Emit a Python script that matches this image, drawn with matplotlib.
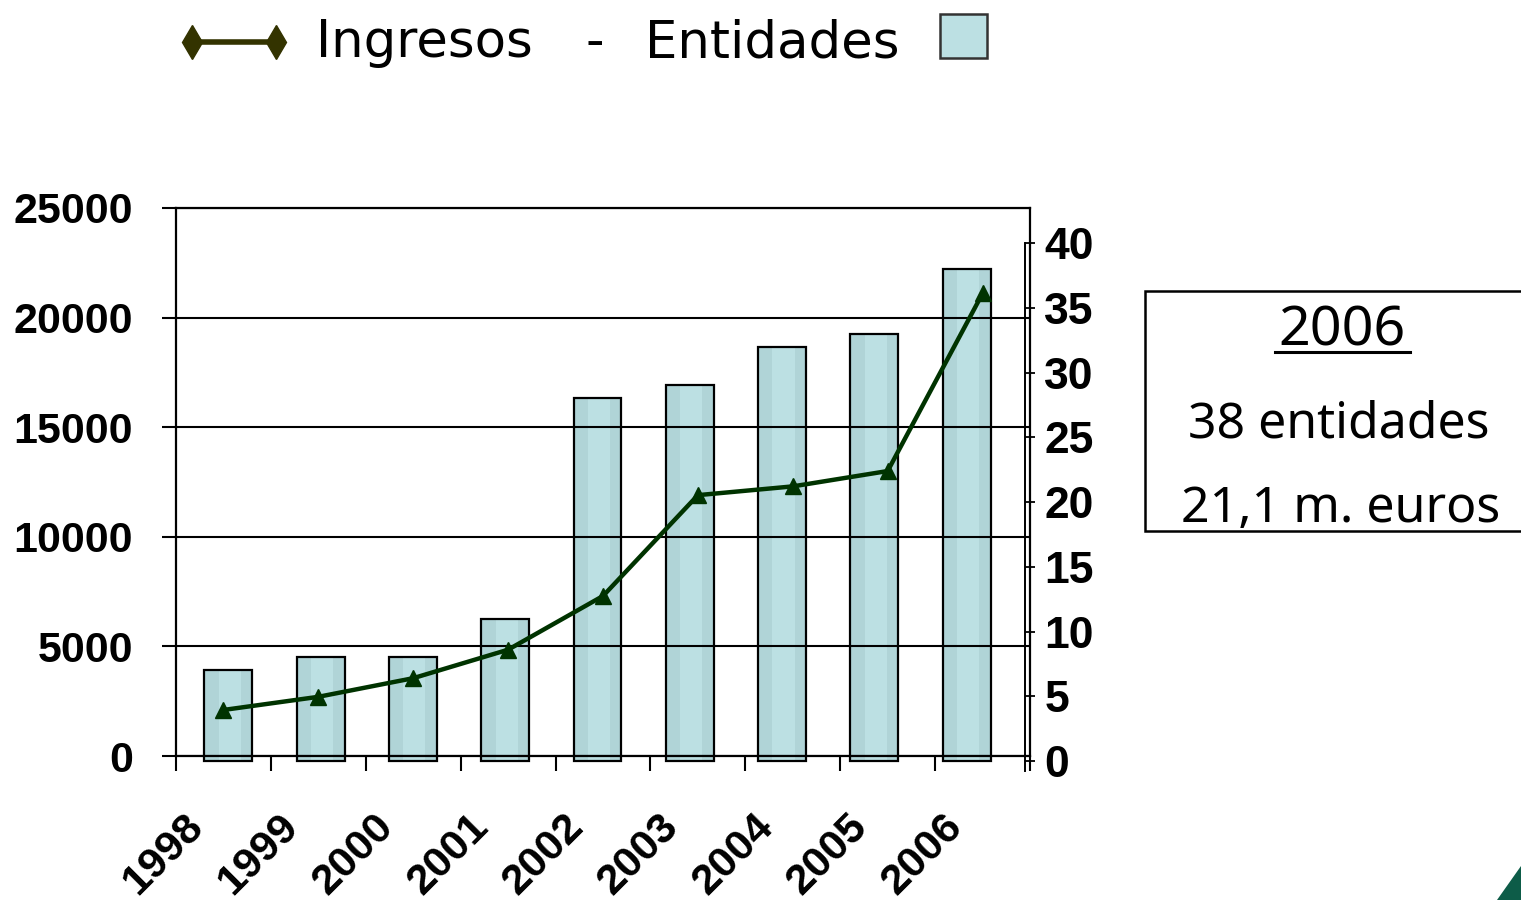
import matplotlib
matplotlib.use("Agg")
import matplotlib.pyplot as plt
from matplotlib.lines import Line2D
from matplotlib.patches import Rectangle, Polygon

# data
years = ["1998", "1999", "2000", "2001", "2002", "2003", "2004", "2005", "2006"]
ingresos = [2100, 2700, 3550, 4850, 7300, 11900, 12300, 13000, 21100]   # miles de euros (eje izq.)
entidades = [7, 8, 8, 11, 28, 29, 32, 33, 38]                           # eje dcho.
left_ticks = [0, 5000, 10000, 15000, 20000, 25000]
right_ticks = [0, 5, 10, 15, 20, 25, 30, 35, 40]

W, H = 1521, 900
BAR = "#bce0e3"
BAR_DARK = "#b0d4d7"
LINE = "#003300"
NUMFONT = "Liberation Sans"
BOXFONT = "Noto Sans"


def px_rect(x0, y0, x1, y1):
    """pixel box (top-left origin) -> figure fraction rect"""
    return [x0 / W, 1 - y1 / H, (x1 - x0) / W, (y1 - y0) / H]


def fx(x):
    return x / W


def fy(y):
    return 1 - y / H


fig = plt.figure(figsize=(W / 100, H / 100), dpi=100)

# ── bar chart (entidades, right axis) ───────────────────────────────
ax2 = fig.add_axes(px_rect(176, 243, 1025, 771))
ax2.set_zorder(1)
ax2.patch.set_visible(False)
xb = list(range(len(years)))
bw = 0.52
ax2.bar(xb, entidades, width=bw, color=BAR, edgecolor="none", zorder=2)
ax2.bar([x - bw / 2 for x in xb], entidades, width=bw * 0.3, align="edge",
        color=BAR_DARK, edgecolor="none", zorder=3)
ax2.bar([x + bw / 2 - bw * 0.24 for x in xb], entidades, width=bw * 0.24,
        align="edge", color=BAR_DARK, edgecolor="none", zorder=3)
ax2.bar(xb, entidades, width=bw, fill=False, edgecolor="black", lw=1.6, zorder=4)
ax2.set_xlim(-0.567, 8.632)
ax2.set_ylim(-0.772, 40)
for s in ["left", "top", "bottom"]:
    ax2.spines[s].set_visible(False)
ax2.spines["right"].set_linewidth(1.4)
ax2.set_xticks([])
ax2.yaxis.tick_right()
ax2.set_yticks(right_ticks)
ax2.set_yticklabels([str(t) for t in right_ticks], fontsize=32,
                    fontweight="bold", family=NUMFONT)
ax2.tick_params(axis="y", direction="out", length=7, width=1.3, pad=7)

# ── line chart (ingresos, left axis) ────────────────────────────────
ax1 = fig.add_axes(px_rect(176, 208, 1030, 756))
ax1.set_zorder(2)
ax1.patch.set_visible(False)
ax1.set_xlim(-0.5, 8.5)
ax1.set_ylim(0, 25000)
for s in ax1.spines.values():
    s.set_linewidth(1.6)
ax1.set_yticks(left_ticks)
ax1.set_yticklabels([str(t) for t in left_ticks], fontsize=31,
                    fontweight="bold", family=NUMFONT)
ax1.tick_params(axis="y", direction="out", length=10, width=1.5, pad=21)
ax1.yaxis.grid(True, color="black", lw=1.5)
ax1.set_xticks([i - 0.5 for i in range(len(years) + 1)])
ax1.set_xticklabels([])
ax1.tick_params(axis="x", direction="out", length=11, width=1.5)

ax1.plot(range(len(years)), ingresos, color=LINE, lw=3.2, marker="^",
         ms=12, clip_on=False, zorder=5)

for i, y in enumerate(years):
    ax1.annotate(y, xy=(i, 0), xycoords=("data", "axes fraction"),
                 xytext=(-40, -50), textcoords="offset pixels",
                 rotation=45, rotation_mode="anchor", ha="right", va="top",
                 fontsize=31, fontweight="bold", family=NUMFONT)

# ── legend at the top ───────────────────────────────────────────────
fig.add_artist(Line2D([fx(192), fx(276)], [fy(42), fy(42)], color="#333300",
                      lw=4, marker="d", ms=17, markevery=[0, 1]))
fig.text(fx(316), fy(57), "Ingresos", fontsize=37, va="baseline")
fig.text(fx(586), fy(57), "-", fontsize=37, va="baseline")
fig.text(fx(645), fy(57), "Entidades", fontsize=37, va="baseline")
fig.add_artist(Rectangle((fx(940), fy(58)), fx(987) - fx(940), fy(14) - fy(58),
                         transform=fig.transFigure, facecolor=BAR,
                         edgecolor="#333333", lw=1.8))

# ── 2006 summary box ────────────────────────────────────────────────
fig.add_artist(Rectangle((fx(1145), fy(531)), fx(1540) - fx(1145), fy(291) - fy(531),
                         transform=fig.transFigure, facecolor="white",
                         edgecolor="black", lw=1.8))
fig.text(fx(1342), fy(346), "2006", fontsize=40, ha="center", va="baseline",
         family=BOXFONT)
fig.add_artist(Line2D([fx(1275), fx(1410)], [fy(352), fy(352)], color="black", lw=2.2))
fig.text(fx(1339), fy(438), "38 entidades", fontsize=36, ha="center", va="baseline",
         family=BOXFONT)
fig.text(fx(1341), fy(522), "21,1 m. euros", fontsize=36, ha="center", va="baseline",
         family=BOXFONT)

# corner decoration bottom right
fig.add_artist(Polygon([(fx(1497), fy(900)), (fx(1521), fy(866)), (fx(1521), fy(900))],
                       closed=True, transform=fig.transFigure, facecolor="#0d5c48",
                       edgecolor="none"))

fig.savefig("out.png", dpi=100)
